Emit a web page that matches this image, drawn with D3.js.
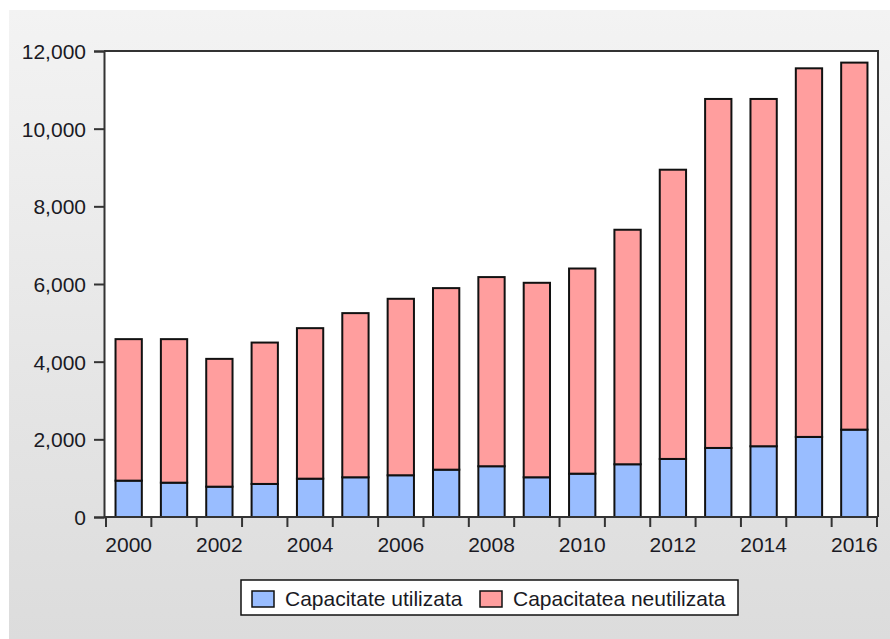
<!DOCTYPE html>
<html>
<head>
<meta charset="utf-8">
<script src="https://cdn.jsdelivr.net/npm/d3@7"></script>
<style>
  html, body { margin: 0; padding: 0; background: #ffffff; }
  svg { display: block; }
  text { font-family: "Liberation Sans", Arial, sans-serif; }
</style>
</head>
<body>
<svg id="chart" width="890" height="639"></svg>
<script>
// ---- data ----
const years = [2000, 2001, 2002, 2003, 2004, 2005, 2006, 2007, 2008, 2009, 2010, 2011, 2012, 2013, 2014, 2015, 2016];
const used =   [936, 884, 781, 851, 987, 1023, 1075, 1219, 1307, 1023, 1116, 1358, 1495, 1778, 1822, 2062, 2250];
const unused = [3644, 3696, 3291, 3641, 3876, 4227, 4544, 4675, 4871, 5008, 5283, 6039, 7448, 8987, 8943, 9492, 9451];
const seriesNames = ["Capacitate utilizata", "Capacitatea neutilizata"];
const seriesColors = ["#99bdff", "#ff9e9e"];
const yTicks = [0, 2000, 4000, 6000, 8000, 10000, 12000];
const xLabelYears = [2000, 2002, 2004, 2006, 2008, 2010, 2012, 2014, 2016];

// ---- layout ----
const svg = d3.select("#chart");
const W = 890, H = 639;
const plot = { left: 104, right: 878, top: 51, bottom: 517 };
const bandLeft = 106, bandRight = 877;

// background gradient
const defs = svg.append("defs");
const grad = defs.append("linearGradient").attr("id", "bg").attr("x1", 0).attr("y1", 0).attr("x2", 0).attr("y2", 1);
grad.append("stop").attr("offset", "0%").attr("stop-color", "#f3f3f3");
grad.append("stop").attr("offset", "100%").attr("stop-color", "#dcdcdc");
svg.append("rect").attr("x", 9).attr("y", 10).attr("width", W - 9).attr("height", H - 10).attr("fill", "url(#bg)");

// plot area
svg.append("rect").attr("x", plot.left).attr("y", plot.top)
  .attr("width", plot.right - plot.left).attr("height", plot.bottom - plot.top)
  .attr("fill", "#ffffff");

// scales
const x = d3.scaleBand().domain(years).range([bandLeft, bandRight]).padding(0);
const y = d3.scaleLinear().domain([0, 12000]).range([plot.bottom, plot.top]);

// data table
const table = years.map((yr, i) => ({ year: yr, used: used[i], unused: unused[i] }));
const stack = d3.stack().keys(["used", "unused"]);
const stacked = stack(table);

const barW = x.bandwidth() * 0.58;
svg.append("g").selectAll("g")
  .data(stacked)
  .join("g")
  .attr("fill", (d, i) => seriesColors[i])
  .selectAll("rect")
  .data(d => d)
  .join("rect")
  .attr("x", d => x(d.data.year) + (x.bandwidth() - barW) / 2)
  .attr("y", d => y(d[1]))
  .attr("width", barW)
  .attr("height", d => y(d[0]) - y(d[1]))
  .attr("stroke", "#111")
  .attr("stroke-width", 2);

// frame (top and right)
svg.append("path")
  .attr("d", `M${plot.left},${plot.top}H${plot.right}V${plot.bottom}`)
  .attr("fill", "none").attr("stroke", "#333").attr("stroke-width", 2);

// y axis
const yAxis = d3.axisLeft(y).tickValues(yTicks).tickFormat(d3.format(",")).tickSize(10).tickPadding(8);
const gy = svg.append("g").attr("transform", `translate(${plot.left},0)`).call(yAxis);
gy.select(".domain").attr("stroke", "#333").attr("stroke-width", 2);
gy.selectAll(".tick line").attr("stroke", "#333").attr("stroke-width", 2);
gy.selectAll(".tick text").attr("font-size", 21).attr("fill", "#1a1a24").attr("dy", "0.36em");

// x axis: tick marks at band boundaries
const boundaries = years.map(yr => x(yr)).concat([x(years[years.length - 1]) + x.bandwidth()]);
const gx = svg.append("g");
gx.append("line").attr("x1", plot.left).attr("x2", plot.right).attr("y1", plot.bottom).attr("y2", plot.bottom)
  .attr("stroke", "#333").attr("stroke-width", 2);
gx.selectAll("line.tk").data(boundaries).join("line").attr("class", "tk")
  .attr("x1", d => d).attr("x2", d => d)
  .attr("y1", plot.bottom).attr("y2", plot.bottom + 10)
  .attr("stroke", "#333").attr("stroke-width", 2);
gx.selectAll("text").data(xLabelYears).join("text")
  .attr("x", d => x(d) + x.bandwidth() / 2)
  .attr("y", 552)
  .attr("text-anchor", "middle")
  .attr("font-size", 21)
  .attr("fill", "#1a1a24")
  .text(d => d);

// legend
const lg = svg.append("g");
lg.append("rect").attr("x", 241).attr("y", 580).attr("width", 497).attr("height", 35)
  .attr("fill", "#ffffff").attr("stroke", "#111").attr("stroke-width", 1.5);
const legendItems = [
  { name: seriesNames[0], color: seriesColors[0], sx: 252, tx: 285 },
  { name: seriesNames[1], color: seriesColors[1], sx: 480, tx: 513 }
];
legendItems.forEach(it => {
  lg.append("rect").attr("x", it.sx).attr("y", 591).attr("width", 22).attr("height", 16)
    .attr("fill", it.color).attr("stroke", "#111").attr("stroke-width", 1.5);
  lg.append("text").attr("x", it.tx).attr("y", 606).attr("font-size", 21).attr("fill", "#1a1a24").text(it.name);
});
</script>
</body>
</html>
